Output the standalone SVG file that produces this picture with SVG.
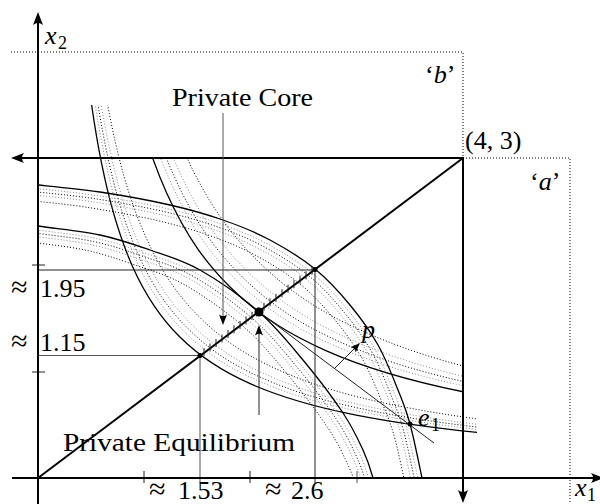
<svg xmlns="http://www.w3.org/2000/svg" xmlns:xlink="http://www.w3.org/1999/xlink" width="600" height="504" viewBox="0 0 600 504">
<style>
.cv{fill:none;stroke:#000;stroke-width:1.3}
.dk{fill:none;stroke:#000;stroke-width:1;stroke-dasharray:1 2}
.dg{fill:none;stroke:#8a8a8a;stroke-width:1;stroke-dasharray:1 2}
.ax{fill:none;stroke:#000;stroke-width:2}
.th{fill:none;stroke:#222;stroke-width:1}
.gr{fill:none;stroke:#555;stroke-width:1}
.bd{fill:none;stroke:#000;stroke-width:1;stroke-dasharray:1 2}
.hd{fill:#000;stroke:none}
text{font-family:"Liberation Serif","DejaVu Serif",serif;font-size:26px;fill:#000}
.it{font-style:italic}
.sb{font-size:18px}
.ap{font-size:30px}
</style>
<defs>
<clipPath id="clipBox"><rect x="38" y="158" width="425" height="320"/></clipPath>
<clipPath id="clipA1"><rect x="0" y="105" width="477" height="399"/></clipPath>
<path id="hyp" vector-effect="non-scaling-stroke" d="M0.3,-3.3333 C0.35,-2.7778 0.4,-2.4691 0.45,-2.2222 C0.5233,-1.8601 0.5967,-1.6559 0.67,-1.4925 C0.78,-1.2475 0.89,-1.11 1,-1 C1.1667,-0.8333 1.3333,-0.7407 1.5,-0.6667 C1.75,-0.5556 2,-0.4938 2.25,-0.4444 C2.6333,-0.3687 3.0167,-0.3273 3.4,-0.2941"/>
<path id="b1" d="M-10,181 C6,182.3 19.7,183.2 38,185 C56.3,186.8 78,188.7 100,192 S149.5,200.3 170,205 S206.3,214.2 223,220 S254.7,231.8 270,240 S301.7,258.2 315,269 S339.5,292.3 350,305 S370,330.8 378,345 S392.7,376.8 398,390 S406,409.3 410,424 S419,463.7 422,478 S426,496 428,510"/>
<path id="b2" d="M-10,218 C6,220.7 19.7,223.2 38,226 C56.3,228.8 81.3,231 100,235 S133.3,244.2 150,250 S181.8,259.7 200,270 S241.8,297 259,312 S289,343.2 303,360 S333,398 343,413 S358,439.2 363,450 S370.3,468 373,478 S377,500 379,510"/>
<path id="ah" d="M0,0 L-13,-5 Q-9,0 -13,5 Z"/>
</defs>

<g id="region-boundaries">
<path class="bd" d="M11,52 H463 V158"/>
<path class="bd" d="M463,158 H570 V504"/>
</g>

<g id="curve-a1" clip-path="url(#clipA1)">
<use href="#hyp" class="dk" transform="translate(38,478) scale(161.2)"/>
<use href="#hyp" class="dg" transform="translate(38,478) scale(153.6)"/>
<use href="#hyp" class="dk" transform="translate(38,478) scale(149.7)"/>
<use href="#hyp" class="dg" transform="translate(38,478) scale(146.3)"/>
<use href="#hyp" class="cv" transform="translate(38,478) scale(141.42)"/>
</g>
<g id="curve-a2" clip-path="url(#clipBox)">
<use href="#hyp" class="dk" transform="translate(38,478) scale(218.4)"/>
<use href="#hyp" class="dg" transform="translate(38,478) scale(208.1)"/>
<use href="#hyp" class="dk" transform="translate(38,478) scale(202.7)"/>
<use href="#hyp" class="dg" transform="translate(38,478) scale(198.1)"/>
<use href="#hyp" class="cv" transform="translate(38,478) scale(191.5)"/>
</g>
<g id="curve-b1" clip-path="url(#clipBox)">
<use href="#b1" class="dk" transform="translate(-15,15)"/>
<use href="#b1" class="dg" transform="translate(-9.5,9.5)"/>
<use href="#b1" class="dk" transform="translate(-6.5,6.5)"/>
<use href="#b1" class="dg" transform="translate(-3.5,3.5)"/>
<use href="#b1" class="cv"/>
</g>
<g id="curve-b2" clip-path="url(#clipBox)">
<use href="#b2" class="dk" transform="translate(-15,15)"/>
<use href="#b2" class="dg" transform="translate(-9.5,9.5)"/>
<use href="#b2" class="dk" transform="translate(-6.5,6.5)"/>
<use href="#b2" class="dg" transform="translate(-3.5,3.5)"/>
<use href="#b2" class="cv"/>
</g>

<g id="guides">
<path class="th" d="M38,270 H315 V483"/>
<path class="gr" d="M38,355.5 H200 V483"/>
<path class="th" d="M32,265 H45 M32,372 H45 M144,471 V483 M250,471 V483"/>
<path class="gr" d="M357,471 V483"/>
</g>

<g id="price-line">
<path class="th" d="M259,312 L434,443"/>
<path class="th" d="M335,368 L355,348"/>
<use href="#ah" class="hd" transform="translate(360,343) rotate(-45) scale(0.75)"/>
</g>

<g id="diagonal">
<path class="ax" d="M38,478 L463,158"/>
<path class="th" d="M204,348v8 M210,343.5v8 M216,339v8 M222,334.5v8 M228,330v8 M234,325.4v8 M240,320.9v8 M246,316.4v8 M252,311.9v8 M258,307.4v8 M264,302.8v8 M270,298.3v8 M276,293.8v8 M282,289.3v8 M288,284.8v8 M294,280.2v8 M300,275.7v8 M306,271.2v8 M312,266.7v8"/>
</g>

<g id="axes">
<path class="ax" d="M38,504 V20"/>
<use href="#ah" class="hd" transform="translate(38,12) rotate(-90)"/>
<path class="ax" d="M12,478 H595"/>
<use href="#ah" class="hd" transform="translate(604,478)"/>
<path class="ax" d="M20,158 H463 V494"/>
<use href="#ah" class="hd" transform="translate(11,158) rotate(180)"/>
<use href="#ah" class="hd" transform="translate(463,503) rotate(90)"/>
</g>

<g id="points">
<circle cx="259" cy="312" r="4.5"/>
<circle cx="200" cy="355.5" r="2.5"/>
<circle cx="315" cy="269.5" r="2.5"/>
<circle cx="410" cy="424" r="2.5"/>
</g>

<g id="label-core">
<path class="gr" d="M223,113 V318"/>
<use href="#ah" class="hd" transform="translate(223,325) rotate(90) scale(0.8)"/>
<text x="172" y="106" textLength="141" lengthAdjust="spacingAndGlyphs">Private Core</text>
</g>
<g id="label-equilibrium">
<path class="th" d="M259,415 V332"/>
<use href="#ah" class="hd" transform="translate(259,325) rotate(-90) scale(0.8)"/>
<text x="63" y="451" textLength="232" lengthAdjust="spacingAndGlyphs">Private Equilibrium</text>
</g>

<g id="labels">
<text x="45" y="44"><tspan class="it">x</tspan><tspan class="sb" x="58" y="49">2</tspan></text>
<text x="575" y="496"><tspan class="it">x</tspan><tspan class="sb" x="587" y="501">1</tspan></text>
<text x="465" y="149">(4, 3)</text>
<text x="425" y="83">‘<tspan class="it">b</tspan>’</text>
<text x="530" y="190">‘<tspan class="it">a</tspan>’</text>
<text y="297"><tspan class="ap" x="11">≈</tspan><tspan x="40">1.95</tspan></text>
<text y="351"><tspan class="ap" x="11">≈</tspan><tspan x="40">1.15</tspan></text>
<text y="499"><tspan class="ap" x="149">≈</tspan><tspan x="178">1.53</tspan></text>
<text y="499"><tspan class="ap" x="265">≈</tspan><tspan x="291">2.6</tspan></text>
<text x="418" y="426"><tspan class="it">e</tspan><tspan class="sb" x="431" y="431">1</tspan></text>
<text x="362" y="338" class="it">p</text>
</g>
</svg>
